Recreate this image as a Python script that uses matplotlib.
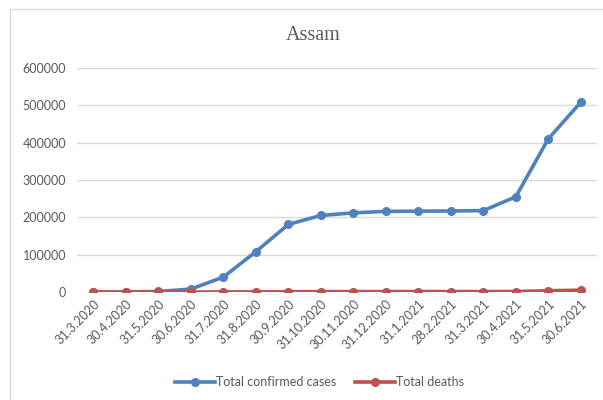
import matplotlib.pyplot as plt
from matplotlib.patches import Rectangle

dates = ['31.3.2020', '30.4.2020', '31.5.2020', '30.6.2020', '31.7.2020', '31.8.2020',
         '30.9.2020', '31.10.2020', '30.11.2020', '31.12.2020', '31.1.2021', '28.2.2021',
         '31.3.2021', '30.4.2021', '31.5.2021', '30.6.2021']
confirmed = [16, 43, 1400, 7800, 40000, 108000, 181000, 205000, 212000, 216000,
             216500, 217000, 218000, 255000, 410000, 508000]
deaths = [0, 1, 4, 12, 98, 300, 750, 940, 990, 1040, 1070, 1090, 1100, 1300, 3400, 4900]

fig = plt.figure(figsize=(6.03, 4.0), dpi=100)
# light chart-area frame
fig.patches.append(Rectangle((0.016, -0.05), 1.1, 1.028, transform=fig.transFigure,
                             fill=False, edgecolor='#d9d9d9', linewidth=1))

ax = fig.add_axes([0.128, 0.27, 0.862, 0.56])
x = list(range(len(dates)))
ax.plot(x, confirmed, color='#4f81bd', lw=2.6, marker='o', ms=5.5, label='Total confirmed cases')
ax.plot(x, deaths, color='#c0504d', lw=2.6, marker='o', ms=5.5, label='Total deaths')

ax.set_xlim(-0.5, len(dates) - 0.5)
ax.set_ylim(0, 600000)
ax.set_yticks(range(0, 600001, 100000))
ax.set_yticklabels([str(v) for v in range(0, 600001, 100000)], fontsize=9,
                   color='#595959', family='Lato')
ax.set_xticks(x)
ax.set_xticklabels(dates, rotation=45, ha='right', rotation_mode='anchor',
                   fontsize=9, color='#595959', family='Lato')
ax.grid(axis='y', color='#d9d9d9', lw=1)
ax.set_axisbelow(True)
for s in ax.spines.values():
    s.set_visible(False)
ax.tick_params(length=0, pad=8)
ax.tick_params(axis='x', pad=4)

fig.text(0.52, 0.912, 'Assam', ha='center', va='center', fontsize=14.5,
         family='Liberation Serif', color='#595959')

fig.legend(loc='center', bbox_to_anchor=(0.53, 0.045), ncol=2, frameon=False,
           prop={'family': 'Lato', 'size': 9}, labelcolor='#595959',
           handlelength=3.2, columnspacing=1.5, handletextpad=0.1)

fig.savefig('out.png', dpi=100)
